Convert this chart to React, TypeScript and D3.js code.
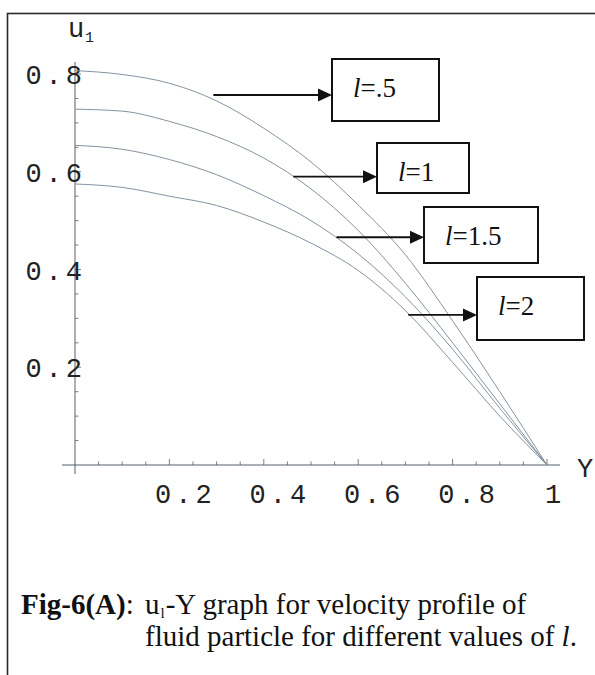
import React from 'react';
import * as d3 from 'd3';

// ---- data ----
const Y_VALUES = [0, 0.1, 0.2, 0.3, 0.4, 0.5, 0.6, 0.7, 0.8, 0.9, 1];
const U_L05 = [0.807, 0.799, 0.781, 0.745, 0.689, 0.62, 0.532, 0.43, 0.295, 0.15, 0];
const U_L1 = [0.728, 0.724, 0.703, 0.672, 0.628, 0.565, 0.48, 0.372, 0.25, 0.125, 0];
const U_L15 = [0.654, 0.646, 0.625, 0.594, 0.551, 0.5, 0.432, 0.344, 0.237, 0.116, 0];
const U_L2 = [0.575, 0.568, 0.55, 0.531, 0.497, 0.454, 0.398, 0.316, 0.21, 0.1, 0];
const SERIES_VALUES = [U_L05, U_L1, U_L15, U_L2];
const SERIES_LABELS = ['=.5', '=1', '=1.5', '=2'];
// arrow tails sit on the curves (Y, u)
const ARROW_TAIL_Y = [0.293, 0.4625, 0.554, 0.706];
const ARROW_TAIL_U = [0.757, 0.59, 0.466, 0.307];

const X_TICKS = [0.2, 0.4, 0.6, 0.8, 1];
const X_TICK_LABELS = ['0.2', '0.4', '0.6', '0.8', '1'];
const Y_TICKS = [0.2, 0.4, 0.6, 0.8];
const Y_TICK_LABELS = ['0.2', '0.4', '0.6', '0.8'];

// ---- layout ----
const W = 595;
const H = 675;
const BOXES = [
  { x: 332, y: 59, w: 107, h: 62 },
  { x: 377, y: 143, w: 92, h: 50 },
  { x: 424, y: 207, w: 114, h: 56 },
  { x: 477, y: 277, w: 107, h: 63 },
];

const MONO = "'Liberation Mono', 'Courier New', monospace";
const SERIF = "'Liberation Serif', 'Times New Roman', serif";

export default function App() {
  const x = d3.scaleLinear().domain([0, 1]).range([75, 547]);
  const y = d3.scaleLinear().domain([0, 0.8]).range([465, 74]);

  const line = d3
    .line<[number, number]>()
    .x((d) => x(d[0]))
    .y((d) => y(d[1]))
    .curve(d3.curveMonotoneX);

  const minorX = d3.range(1, 21).map((i) => i * 0.05);
  const minorY = d3.range(1, 17).map((i) => i * 0.05);
  const isMajor = (v: number) => Math.abs(v / 0.2 - Math.round(v / 0.2)) < 1e-6;

  const axisColor = '#55606a';
  const curveColor = '#8593a0';

  return (
    <svg
      width={W}
      height={H}
      style={{ position: 'absolute', left: 0, top: 0, background: '#fff' }}
    >
      <rect x={0} y={0} width={W} height={H} fill="#fff" />
      {/* outer frame */}
      <rect x={7.5} y={13.5} width={W + 10} height={H + 10} fill="none" stroke="#2a2a2a" strokeWidth={1.6} />

      {/* axes */}
      <line x1={x(0)} x2={x(0)} y1={474} y2={62} stroke={axisColor} strokeWidth={1} />
      <line x1={62} x2={560} y1={y(0)} y2={y(0)} stroke={axisColor} strokeWidth={1} />

      {minorX.map((v, i) => (
        <line
          key={'tx' + i}
          x1={x(v)}
          x2={x(v)}
          y1={y(0)}
          y2={y(0) - (isMajor(v) ? 6 : 3.5)}
          stroke={axisColor}
          strokeWidth={0.8}
        />
      ))}
      {minorY.map((v, i) => (
        <line
          key={'ty' + i}
          x1={x(0)}
          x2={x(0) + (isMajor(v) ? 6 : 3.5)}
          y1={y(v)}
          y2={y(v)}
          stroke={axisColor}
          strokeWidth={0.8}
        />
      ))}

      {X_TICKS.map((t, i) => (
        <text
          key={'xl' + i}
          x={x(t) + (X_TICK_LABELS[i].length > 1 ? 16 : 8)}
          y={503}
          textAnchor="middle"
          fontFamily={MONO}
          fontSize={27}
          letterSpacing={4}
          fill="#222"
        >
          {X_TICK_LABELS[i]}
        </text>
      ))}
      {Y_TICKS.map((t, i) => (
        <text
          key={'yl' + i}
          x={86}
          y={y(t) + 3}
          textAnchor="end"
          dominantBaseline="central"
          fontFamily={MONO}
          fontSize={27}
          letterSpacing={4}
          fill="#222"
        >
          {Y_TICK_LABELS[i]}
        </text>
      ))}

      {/* axis labels */}
      <text x={577} y={477} fontFamily={MONO} fontSize={27} fill="#222">Y</text>
      <text x={68} y={37} fontFamily={MONO} fontSize={27} fill="#222">u</text>
      <text x={85} y={42} fontFamily={MONO} fontSize={15} fill="#222">1</text>

      {/* curves */}
      {SERIES_VALUES.map((vals, si) => (
        <path
          key={'c' + si}
          d={line(Y_VALUES.map((yy, j) => [yy, vals[j]] as [number, number])) || ''}
          fill="none"
          stroke={curveColor}
          strokeWidth={1}
        />
      ))}

      {/* annotations */}
      {SERIES_LABELS.map((lab, i) => {
        const b = BOXES[i];
        const tx = x(ARROW_TAIL_Y[i]);
        const ty = y(ARROW_TAIL_U[i]);
        const tip = b.x;
        return (
          <g key={'a' + i}>
            <line x1={tx} x2={tip - 10} y1={ty} y2={ty} stroke="#111" strokeWidth={1.8} />
            <path d={`M${tip},${ty} L${tip - 14},${ty - 6.5} L${tip - 14},${ty + 6.5} Z`} fill="#111" />
            <rect x={b.x} y={b.y} width={b.w} height={b.h} fill="#fff" stroke="#111" strokeWidth={2} />
            <text x={b.x + 21} y={b.y + 38} fontFamily={SERIF} fontSize={27} fill="#111">
              <tspan fontStyle="italic">l</tspan>
              {lab}
            </text>
          </g>
        );
      })}

      {/* caption */}
      <text x={21} y={614} fontFamily={SERIF} fontSize={29} fill="#111">
        <tspan fontWeight="bold">Fig-6(A)</tspan>
        <tspan>:</tspan>
      </text>
      <text x={145} y={614} fontFamily={SERIF} fontSize={29} fill="#111">
        <tspan>u</tspan>
        <tspan fontSize={15} dx={1} dy={4}>l</tspan>
        <tspan dx={1} dy={-4}>-Y graph for velocity profile of</tspan>
      </text>
      <text x={145} y={646} fontFamily={SERIF} fontSize={29} fill="#111">
        <tspan>fluid particle for different values of </tspan>
        <tspan fontStyle="italic">l</tspan>
        <tspan>.</tspan>
      </text>
    </svg>
  );
}
